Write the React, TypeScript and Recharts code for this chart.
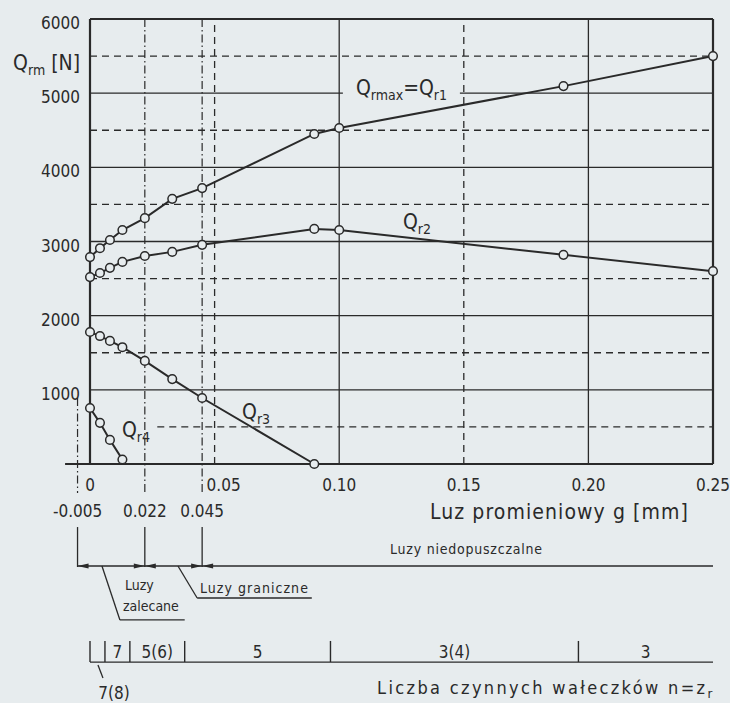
import React from 'react';
import { LineChart, Line, XAxis, YAxis, ReferenceLine, ReferenceDot } from 'recharts';

// ---------------- data ----------------
const gPoints = [0, 0.004, 0.008, 0.013, 0.022, 0.033, 0.045, 0.09, 0.1, 0.19, 0.25];
const qr1 = [2790, 2910, 3020, 3155, 3315, 3575, 3720, 4450, 4530, 5095, 5500];
const qr2 = [2520, 2575, 2645, 2725, 2805, 2860, 2955, 3170, 3155, 2820, 2600];
const gPointsQr3 = [0, 0.004, 0.008, 0.013, 0.022, 0.033, 0.045, 0.09];
const qr3 = [1780, 1725, 1660, 1575, 1390, 1145, 890, 0];
const gPointsQr4 = [0, 0.004, 0.008, 0.013];
const qr4 = [755, 555, 325, 60];

const xTicks = [0, 0.05, 0.1, 0.15, 0.2, 0.25];
const xTickLabels = ['0', '0.05', '0.10', '0.15', '0.20', '0.25'];
const yTicks = [1000, 2000, 3000, 4000, 5000, 6000];
const yMajor = [1000, 2000, 3000, 4000, 5000];
const yMinor = [500, 1500, 2500, 3500, 4500, 5500];
const xMajor = [0.1, 0.2];
const xMinor = [0.05, 0.15];
const clearanceMarks = [-0.005, 0.022, 0.045];
const clearanceLabels = ['-0.005', '0.022', '0.045'];
const rollerBounds = [0, 0.006, 0.016, 0.038, 0.0965, 0.196, 0.25];
const rollerLabels = ['7(8)', '7', '5(6)', '5', '3(4)', '3'];

// ---------------- style ----------------
const BG = '#e7ecee';
const INK = '#2a2a2a';
const FONT = "'Liberation Sans Narrow', 'DejaVu Sans Condensed', 'Liberation Sans', sans-serif";

const toPts = (gs: number[], qs: number[]) => gs.map((g, i) => ({ g, q: qs[i] }));

const XTick = (p: any) => {
  const i = xTicks.indexOf(p.payload.value);
  const dx = p.payload.value === 0.05 ? 9 : 0;
  return (
    <text x={p.x + dx} y={p.y + 27} textAnchor="middle" fontFamily={FONT} fontSize={17} fill={INK}>
      {xTickLabels[i]}
    </text>
  );
};

const YTick = (p: any) => (
  <text x={p.x} y={p.y + 10} textAnchor="end" fontFamily={FONT} fontSize={17} fill={INK}>
    {p.payload.value}
  </text>
);

const textDot = (key: string, g: number, q: number, render: (cx: number, cy: number) => React.ReactNode) => (
  <ReferenceDot key={key} x={g} y={q} r={0} ifOverflow="visible" shape={(p: any) => <g>{render(p.cx, p.cy)}</g>} />
);

const seg = (key: string, x1: number, y1: number, x2: number, y2: number, dash?: string, w = 1.3) => (
  <ReferenceLine
    key={key}
    segment={[{ x: x1, y: y1 }, { x: x2, y: y2 }]}
    stroke={INK}
    strokeWidth={w}
    strokeDasharray={dash}
    ifOverflow="visible"
  />
);

const arrow = (key: string, g: number, q: number, dir: number) =>
  textDot(key, g, q, (cx, cy) => (
    <polygon points={`${cx},${cy} ${cx + dir * 11},${cy - 2.6} ${cx + dir * 11},${cy + 2.6}`} fill={INK} />
  ));

const Q = (cx: number, cy: number, sub: string, tail?: React.ReactNode, anchor = 'start') => (
  <text x={cx} y={cy} fontFamily={FONT} fontSize={21} fill={INK} textAnchor={anchor}>
    Q
    <tspan fontSize={14} dy={5}>{sub}</tspan>
    {tail}
  </text>
);

export default function App() {
  const s1 = toPts(gPoints, qr1);
  const s2 = toPts(gPoints, qr2);
  const s3 = toPts(gPointsQr3, qr3);
  const s4 = toPts(gPointsQr4, qr4);
  const dotStyle = { r: 4.3, fill: BG, stroke: INK, strokeWidth: 1.5 };

  return (
    <div style={{ position: 'absolute', left: 0, top: 0, width: 730, height: 703, background: BG }}>
      <LineChart width={730} height={703} margin={{ top: 19, right: 17, bottom: 209, left: 30 }}>
        <XAxis
          type="number"
          dataKey="g"
          domain={[0, 0.25]}
          ticks={xTicks}
          interval={0}
          axisLine={false}
          tickLine={false}
          tickSize={0}
          tickMargin={0}
          height={30}
          tick={(p: any) => <XTick {...p} />}
        />
        <YAxis
          type="number"
          dataKey="q"
          domain={[0, 6000]}
          ticks={yTicks}
          interval={0}
          axisLine={false}
          tickLine={false}
          tickSize={0}
          tickMargin={10}
          width={60}
          tick={(p: any) => <YTick {...p} />}
        />

        {/* horizontal grid */}
        {yMajor.map((y) => seg('hm' + y, 0, y, 0.25, y, undefined, 1.3))}
        {yMinor.map((y) => seg('hn' + y, y === 500 ? 0.027 : 0, y, 0.25, y, '7 5', 1.3))}
        {/* vertical grid */}
        {xMajor.map((x) => seg('vm' + x, x, 0, x, 6000, undefined, 1.3))}
        {xMinor.map((x) => seg('vn' + x, x, 0, x, 6000, '7 5', 1.3))}
        {seg('dd1', 0.022, 6000, 0.022, -391, '8 3 1.5 3', 1.2)}
        {seg('dd2', 0.045, 6000, 0.045, -391, '8 3 1.5 3', 1.2)}
        {seg('dd0', -0.005, 890, -0.005, -391, '8 3 1.5 3', 1.2)}

        {/* frame */}
        {seg('bl', 0, 0, 0, 6000, undefined, 2.2)}
        {seg('br', 0.25, 0, 0.25, 6000, undefined, 2.2)}
        {seg('bt', 0, 6000, 0.25, 6000, undefined, 2.2)}
        {seg('bb', -0.01, 0, 0.25, 0, undefined, 2.2)}

        {/* series */}
        <Line data={s1} dataKey="q" type="linear" stroke={INK} strokeWidth={2} dot={dotStyle} isAnimationActive={false} />
        <Line data={s2} dataKey="q" type="linear" stroke={INK} strokeWidth={2} dot={dotStyle} isAnimationActive={false} />
        <Line data={s3} dataKey="q" type="linear" stroke={INK} strokeWidth={2} dot={dotStyle} isAnimationActive={false} />
        <Line data={s4} dataKey="q" type="linear" stroke={INK} strokeWidth={2} dot={dotStyle} isAnimationActive={false} />

        {/* series labels */}
        {textDot('lq1', 0.1067, 4975, (cx, cy) => (
          <g>
            <rect x={cx - 13} y={cy - 14} width={117} height={22} fill={BG} />
            {Q(cx, cy, 'rmax', (
              <>
                <tspan fontSize={21} dy={-5}>=Q</tspan>
                <tspan fontSize={14} dy={5}>r1</tspan>
              </>
            ))}
          </g>
        ))}
        {textDot('lq2', 0.1256, 3168, (cx, cy) => Q(cx, cy, 'r2'))}
        {textDot('lq3', 0.061, 607, (cx, cy) => Q(cx, cy, 'r3'))}
        {textDot('lq4', 0.0128, 364, (cx, cy) => Q(cx, cy, 'r4'))}
        {textDot('lqy', -0.004, 5312, (cx, cy) => (
          <text x={cx} y={cy} fontFamily={FONT} fontSize={21} fill={INK} textAnchor="end">
            Q<tspan fontSize={14} dy={5}>rm</tspan>
            <tspan fontSize={21} dy={-5}> [N]</tspan>
          </text>
        ))}

        {/* clearance marks */}
        {clearanceMarks.map((g, i) =>
          textDot('cl' + i, g, -715, (cx, cy) => (
            <text x={cx} y={cy} textAnchor="middle" fontFamily={FONT} fontSize={17} fill={INK}>
              {clearanceLabels[i]}
            </text>
          ))
        )}
        {clearanceMarks.map((g, i) => seg('ce' + i, g, -850, g, -1389, undefined, 1.3))}
        {seg('dim', -0.005, -1375, 0.25, -1375, undefined, 1.3)}
        {arrow('a0', clearanceMarks[0], -1375, 1)}
        {arrow('a1', clearanceMarks[1], -1375, -1)}
        {arrow('a2', clearanceMarks[1], -1375, 1)}
        {arrow('a3', clearanceMarks[2], -1375, -1)}
        {arrow('a4', clearanceMarks[2], -1375, 1)}

        {textDot('luzy-nd', 0.1509, -1213, (cx, cy) => (
          <text x={cx - 76} y={cy} fontFamily={FONT} fontSize={14} fill={INK} textLength={152} lengthAdjust="spacing">
            Luzy niedopuszczalne
          </text>
        ))}
        {seg('ld1a', 0.0048, -1375, 0.012, -2103)}
        {seg('ld1b', 0.012, -2103, 0.038, -2103)}
        {textDot('lz1', 0.014, -1699, (cx, cy) => (
          <text x={cx} y={cy} fontFamily={FONT} fontSize={14} fill={INK}>Luzy</text>
        ))}
        {textDot('lz2', 0.0132, -1982, (cx, cy) => (
          <text x={cx} y={cy} fontFamily={FONT} fontSize={14} fill={INK}>zalecane</text>
        ))}
        {seg('ld2a', 0.0353, -1375, 0.043, -1807)}
        {seg('ld2b', 0.043, -1807, 0.089, -1807)}
        {textDot('lz3', 0.0441, -1739, (cx, cy) => (
          <text x={cx} y={cy} fontFamily={FONT} fontSize={14} fill={INK} textLength={108} lengthAdjust="spacing">
            Luzy graniczne
          </text>
        ))}

        {textDot('xtitle', 0.1364, -742, (cx, cy) => (
          <text x={cx} y={cy} fontFamily={FONT} fontSize={21} fill={INK} textLength={258} lengthAdjust="spacing">
            Luz promieniowy g [mm]
          </text>
        ))}

        {/* number of active rollers */}
        {seg('rl', 0, -2670, 0.25, -2670, undefined, 1.3)}
        {rollerBounds.slice(0, -1).map((g, i) => seg('rb' + i, g, -2386, g, -2670, undefined, 1.4))}
        {rollerLabels.map((lab, i) =>
          i === 0
            ? null
            : textDot('rlab' + i, (rollerBounds[i] + rollerBounds[i + 1]) / 2, -2616, (cx, cy) => (
                <text x={cx} y={cy} textAnchor="middle" fontFamily={FONT} fontSize={17} fill={INK}>{lab}</text>
              ))
        )}
        {seg('r78', 0.0032, -2710, 0.0052, -2885)}
        {textDot('rlab0', 0.0096, -3168, (cx, cy) => (
          <text x={cx} y={cy} textAnchor="middle" fontFamily={FONT} fontSize={17} fill={INK}>{rollerLabels[0]}</text>
        ))}
        {textDot('rtitle', 0.1152, -3100, (cx, cy) => (
          <text x={cx} y={cy} fontFamily={FONT} fontSize={18} fill={INK}>
            <tspan textLength={328} lengthAdjust="spacing">Liczba czynnych wałeczków n=z</tspan>
            <tspan fontSize={13} dy={4}>r</tspan>
          </text>
        ))}
      </LineChart>
    </div>
  );
}
